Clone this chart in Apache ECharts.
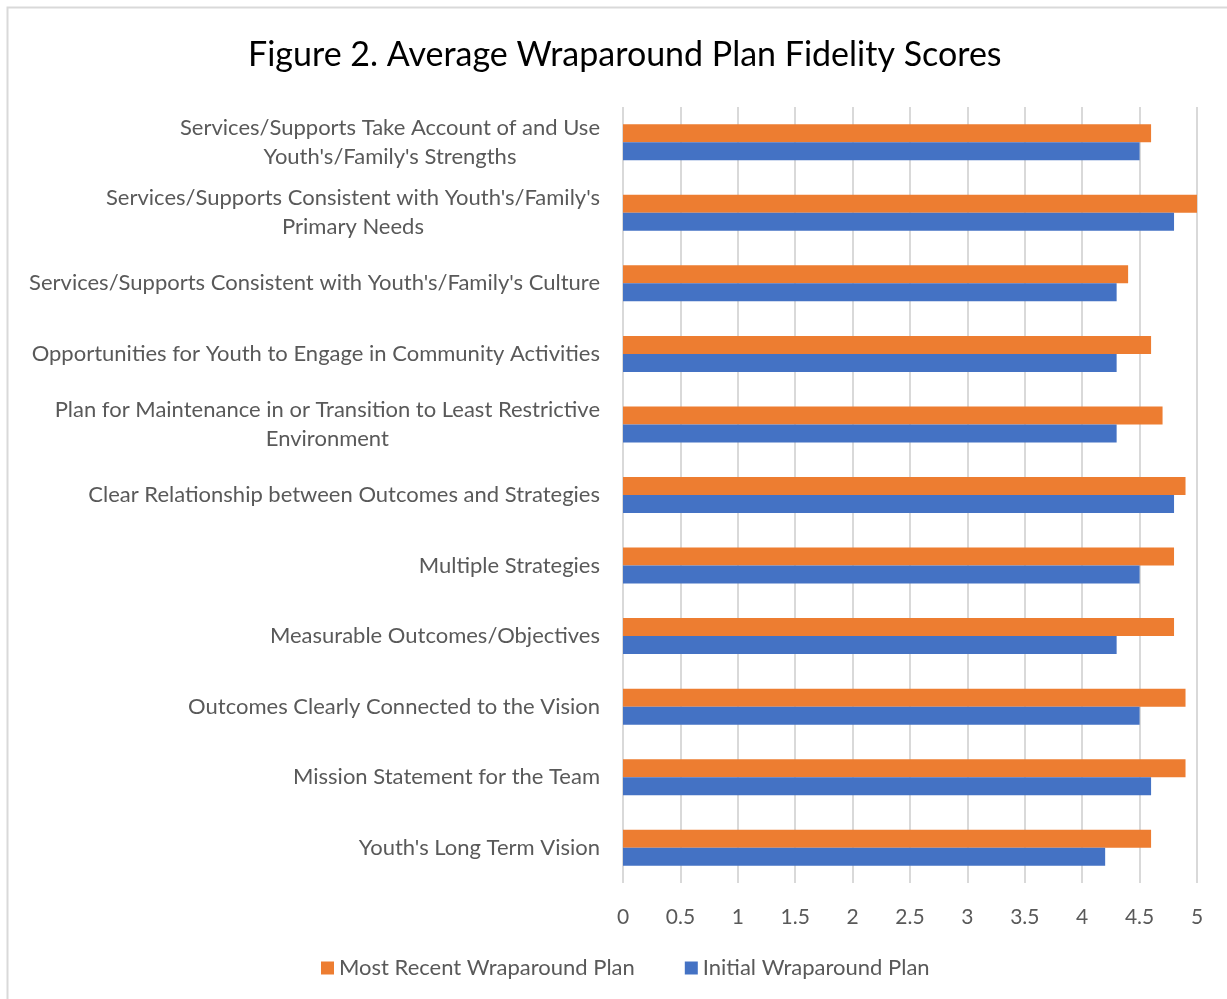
<!DOCTYPE html>
<html>
<head>
<meta charset="utf-8">
<script src="https://cdn.jsdelivr.net/npm/echarts@6/dist/echarts.min.js"></script>
<style>
  html, body { margin: 0; padding: 0; background: #fff; }
  #chart { width: 1227px; height: 999px; }
</style>
</head>
<body>
<div id="chart"></div>
<script>
// categories listed top to bottom
const categories = [
  'Services/Supports Take Account of and Use\nYouth\'s/Family\'s Strengths',
  'Services/Supports Consistent with Youth\'s/Family\'s\nPrimary Needs',
  'Services/Supports Consistent with Youth\'s/Family\'s Culture',
  'Opportunities for Youth to Engage in Community Activities',
  'Plan for Maintenance in or Transition to Least Restrictive\nEnvironment',
  'Clear Relationship between Outcomes and Strategies',
  'Multiple Strategies',
  'Measurable Outcomes/Objectives',
  'Outcomes Clearly Connected to the Vision',
  'Mission Statement for the Team',
  'Youth\'s Long Term Vision'
]
const mostRecent = [4.6, 5.0, 4.4, 4.6, 4.7, 4.9, 4.8, 4.8, 4.9, 4.9, 4.6]
const initial = [4.5, 4.8, 4.3, 4.3, 4.3, 4.8, 4.5, 4.3, 4.5, 4.6, 4.2]
const xTicks = ['0', '0.5', '1', '1.5', '2', '2.5', '3', '3.5', '4', '4.5', '5']

const font = 'Lato, Carlito, Calibri, sans-serif'
const charts = echarts.init(document.getElementById('chart'))
charts.setOption({
  animation: false,
  title: {
    text: 'Figure 2. Average Wraparound Plan Fidelity Scores',
    left: 243,
    top: 33,
    textStyle: {
      fontFamily: font,
      fontSize: 34,
      fontWeight: 'normal',
      color: '#000'
    }
  },
  graphic: [{
    type: 'rect',
    shape: { x: 7.5, y: 7.5, width: 1240, height: 1020 },
    style: { fill: 'none', stroke: '#d9d9d9', lineWidth: 2 },
    silent: true
  }],
  legend: {
    bottom: 15,
    left: 316,
    itemWidth: 13,
    itemHeight: 13,
    itemGap: 50,
    icon: 'rect',
    textStyle: {
      fontFamily: font,
      fontSize: 22,
      color: '#595959'
    },
    data: ['Most Recent Wraparound Plan', 'Initial Wraparound Plan']
  },
  grid: {
    left: 623,
    right: 30,
    top: 107,
    bottom: 116
  },
  xAxis: {
    type: 'value',
    min: 0,
    max: 5,
    interval: 0.5,
    axisLine: { show: false },
    axisTick: { show: false },
    axisLabel: {
      margin: 24,
      fontFamily: font,
      fontSize: 21,
      color: '#595959',
      formatter: function(v) {
        return xTicks[Math.round(v * 2)]
      }
    },
    splitLine: {
      lineStyle: { color: '#d9d9d9', width: 2 }
    }
  },
  yAxis: {
    type: 'category',
    inverse: true,
    data: categories,
    axisLine: { show: false },
    axisTick: { show: false },
    axisLabel: {
      margin: 23,
      fontFamily: font,
      fontSize: 22,
      color: '#595959',
      formatter: function(v) {
        return v.split('\n').map(s => '{c|' + s + '}').join('\n')
      },
      rich: {
        c: {
          align: 'center',
          fontFamily: font,
          fontSize: 22,
          lineHeight: 29,
          color: '#595959'
        }
      }
    }
  },
  series: [
    {
      name: 'Most Recent Wraparound Plan',
      type: 'bar',
      data: mostRecent,
      barWidth: 18,
      barGap: '0%',
      itemStyle: { color: '#ED7D31' }
    },
    {
      name: 'Initial Wraparound Plan',
      type: 'bar',
      data: initial,
      barWidth: 18,
      barGap: '0%',
      itemStyle: { color: '#4472C4' }
    }
  ]
})
</script>
</body>
</html>
